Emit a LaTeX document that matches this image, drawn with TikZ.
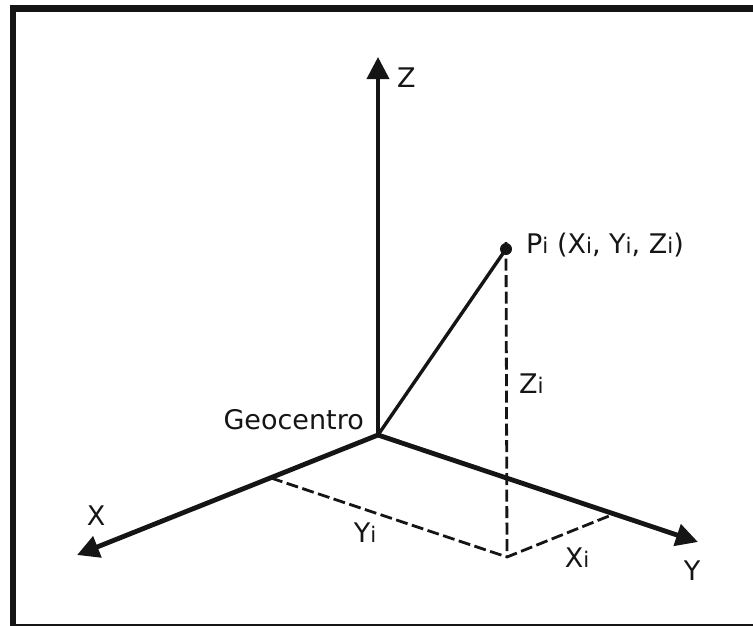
\documentclass[tikz,border=0pt]{standalone}
\usepackage{fontspec}
\setmainfont{DejaVu Sans}
\usetikzlibrary{arrows.meta}
\newcommand{\subi}{{\fontsize{21.5}{21.5}\selectfont i}}
\definecolor{ink}{HTML}{151515}
\begin{document}
\begin{tikzpicture}[x=1pt,y=-1pt,
  axis/.style={ink,line width=4.8pt,-{Triangle[length=22pt,width=22pt]}},
  zaxis/.style={ink,line width=3.8pt,-{Triangle[length=22pt,width=22pt]}},
  guide/.style={ink,line width=2.8pt,dash pattern=on 12pt off 4.5pt},
  lbl/.style={inner sep=0pt,text=ink,font=\fontsize{27}{30}\selectfont},
  frame/.style={draw=ink,line width=6.5pt}]
\useasboundingbox (0,0) rectangle (753,625);
\draw[frame] (13,8.5) rectangle (770,627);
% points
\coordinate (O) at (378,435);
\coordinate (Zt) at (378,57);
\coordinate (Xt) at (77,555);
\coordinate (Yt) at (698,542);
\coordinate (P) at (506,249);
\coordinate (B) at (507,557);
\coordinate (A) at (271,478);
\coordinate (C) at (614,514);
% axes
\draw[zaxis] (O) -- (Zt);
\draw[axis] (O) -- (Xt);
\draw[axis] (O) -- (Yt);
% point P
\draw[ink,line width=3.4pt] (O) -- (P);
\fill[ink] (P) circle (6pt);
% guides
\draw[guide] ([yshift=7pt]P) -- (B);
\draw[guide] (A) -- (B) -- (C);
% labels
\node[lbl,anchor=base west] (lz) at (397,87) {Z};
\node[lbl,anchor=base] (lx) at (96,525) {X};
\node[lbl,anchor=base] (ly) at (692,580) {Y};
\node[lbl,anchor=base east] (lg) at (364,429) {Geocentro};
\node[lbl,anchor=base west] (lp) at (526,253) {P\subi{} (X\subi, Y\subi, Z\subi)};
\node[lbl,anchor=base west] (lzi) at (519,393) {Z\subi};
\node[lbl,anchor=base] (lyi) at (365,542) {Y\subi};
\node[lbl,anchor=base] (lxi) at (577,567) {X\subi};
\end{tikzpicture}
\end{document}
